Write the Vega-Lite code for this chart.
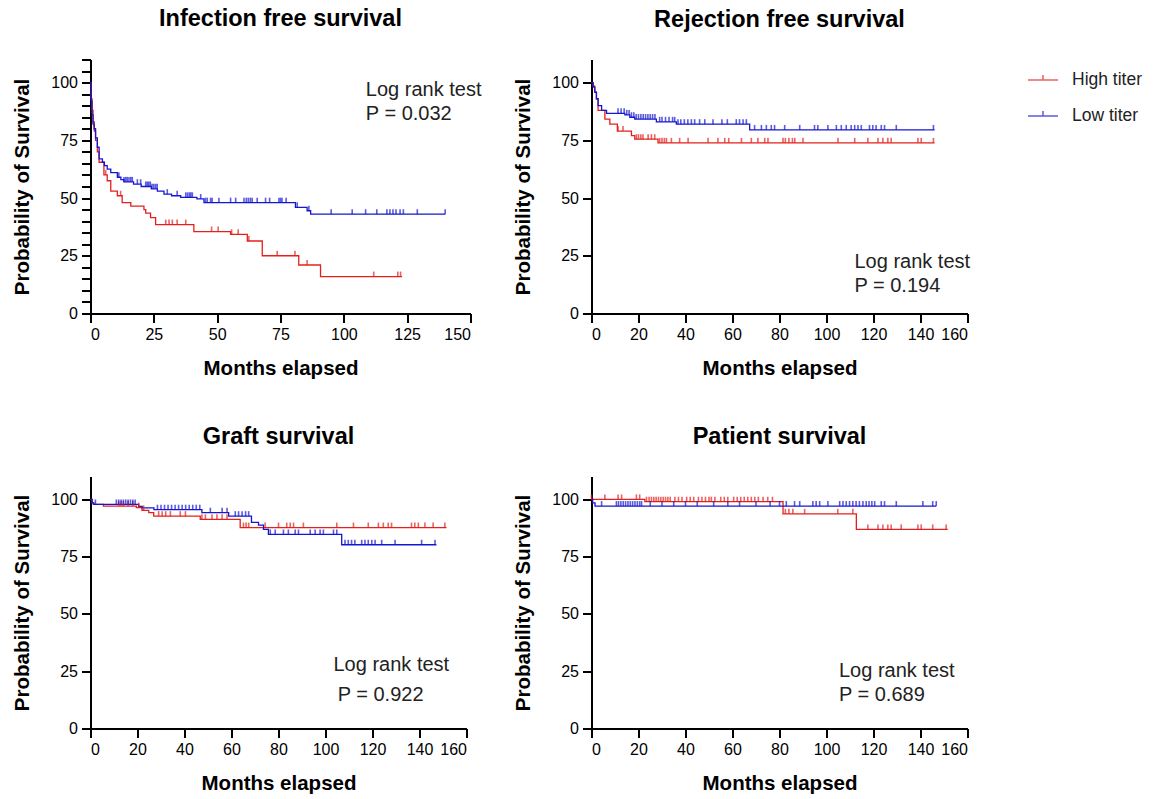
{
"$schema": "https://vega.github.io/schema/vega-lite/v6.json",
"background": "white",
"padding": {"left": 12.5, "top": 6.5, "right": 5, "bottom": 5},
"config": {
  "view": {"stroke": null},
  "font": "Liberation Sans",
  "axis": {"domainColor": "black", "domainWidth": 2, "tickColor": "black", "tickWidth": 2, "tickSize": 9, "labelFontSize": 16, "labelColor": "black", "labelPadding": 4, "titleFontSize": 20.5, "titleFontWeight": "bold", "titleColor": "black", "grid": false, "labelFont": "Liberation Sans", "titleFont": "Liberation Sans", "labelOverlap": false},
  "axisX": {"titlePadding": 16},
  "axisY": {"titlePadding": 18},
  "title": {"fontSize": 23.5, "fontWeight": "bold", "color": "black", "offset": 28.5, "font": "Liberation Sans"},
  "legend": {"orient": "none", "legendX": 936.5, "legendY": 4.5, "title": null, "labelFontSize": 17.5, "labelFont": "Liberation Sans", "labelColor": "#222", "symbolType": "M-1,0H1M0,0V-0.33", "symbolSize": 900, "symbolStrokeWidth": 1.5, "rowPadding": 11, "labelOffset": 13}
},
"datasets": {
"steps": [
{"p":1,"g":"High titer","m":0,"s":100},{"p":1,"g":"High titer","m":0.3,"s":93},{"p":1,"g":"High titer","m":0.6,"s":88},{"p":1,"g":"High titer","m":1,"s":83},{"p":1,"g":"High titer","m":1.5,"s":79},{"p":1,"g":"High titer","m":2,"s":75},{"p":1,"g":"High titer","m":2.7,"s":70},{"p":1,"g":"High titer","m":3.4,"s":65.5},{"p":1,"g":"High titer","m":5.3,"s":60},{"p":1,"g":"High titer","m":6.6,"s":57.5},{"p":1,"g":"High titer","m":8,"s":53},{"p":1,"g":"High titer","m":10.6,"s":51},{"p":1,"g":"High titer","m":12.5,"s":48},{"p":1,"g":"High titer","m":15.9,"s":46.5},{"p":1,"g":"High titer","m":21.1,"s":45},{"p":1,"g":"High titer","m":21.8,"s":43.5},{"p":1,"g":"High titer","m":23.7,"s":41.5},{"p":1,"g":"High titer","m":25.7,"s":38.5},{"p":1,"g":"High titer","m":40.8,"s":35.5},{"p":1,"g":"High titer","m":55.3,"s":34.3},{"p":1,"g":"High titer","m":61.9,"s":31.4},{"p":1,"g":"High titer","m":67.8,"s":25},{"p":1,"g":"High titer","m":82.2,"s":21},{"p":1,"g":"High titer","m":90.8,"s":16},{"p":1,"g":"High titer","m":123,"s":16},
{"p":1,"g":"Low titer","m":0,"s":100},{"p":1,"g":"Low titer","m":0.3,"s":92},{"p":1,"g":"Low titer","m":0.6,"s":86},{"p":1,"g":"Low titer","m":1,"s":82},{"p":1,"g":"Low titer","m":1.4,"s":80},{"p":1,"g":"Low titer","m":2,"s":76},{"p":1,"g":"Low titer","m":2.7,"s":72},{"p":1,"g":"Low titer","m":3.4,"s":67},{"p":1,"g":"Low titer","m":4.7,"s":65.5},{"p":1,"g":"Low titer","m":5.5,"s":64},{"p":1,"g":"Low titer","m":6.6,"s":62.5},{"p":1,"g":"Low titer","m":8,"s":61},{"p":1,"g":"Low titer","m":10.6,"s":59},{"p":1,"g":"Low titer","m":12,"s":58},{"p":1,"g":"Low titer","m":13.2,"s":57},{"p":1,"g":"Low titer","m":17,"s":56},{"p":1,"g":"Low titer","m":20,"s":55},{"p":1,"g":"Low titer","m":24,"s":54},{"p":1,"g":"Low titer","m":26.4,"s":53},{"p":1,"g":"Low titer","m":29,"s":51.7},{"p":1,"g":"Low titer","m":32,"s":51},{"p":1,"g":"Low titer","m":35.6,"s":50.3},{"p":1,"g":"Low titer","m":42,"s":49.6},{"p":1,"g":"Low titer","m":44.8,"s":48},{"p":1,"g":"Low titer","m":80.9,"s":46},{"p":1,"g":"Low titer","m":85.5,"s":44.5},{"p":1,"g":"Low titer","m":86.9,"s":43},{"p":1,"g":"Low titer","m":140,"s":43},
{"p":2,"g":"High titer","m":0,"s":100},{"p":2,"g":"High titer","m":0.7,"s":98.5},{"p":2,"g":"High titer","m":1.4,"s":96},{"p":2,"g":"High titer","m":2.1,"s":93},{"p":2,"g":"High titer","m":2.8,"s":88},{"p":2,"g":"High titer","m":5.7,"s":84.2},{"p":2,"g":"High titer","m":7.8,"s":82},{"p":2,"g":"High titer","m":11,"s":79},{"p":2,"g":"High titer","m":17,"s":77},{"p":2,"g":"High titer","m":18.4,"s":75.5},{"p":2,"g":"High titer","m":28.3,"s":73.9},{"p":2,"g":"High titer","m":146,"s":73.9},
{"p":2,"g":"Low titer","m":0,"s":100},{"p":2,"g":"Low titer","m":0.7,"s":98},{"p":2,"g":"Low titer","m":1.4,"s":95.8},{"p":2,"g":"Low titer","m":2.1,"s":93},{"p":2,"g":"Low titer","m":2.8,"s":90},{"p":2,"g":"Low titer","m":4.3,"s":88},{"p":2,"g":"Low titer","m":6.4,"s":86.7},{"p":2,"g":"Low titer","m":14.2,"s":86},{"p":2,"g":"Low titer","m":16.3,"s":85},{"p":2,"g":"Low titer","m":18.4,"s":84.2},{"p":2,"g":"Low titer","m":27.6,"s":83},{"p":2,"g":"Low titer","m":36.1,"s":82},{"p":2,"g":"Low titer","m":67.3,"s":79.5},{"p":2,"g":"Low titer","m":146,"s":79.5},
{"p":3,"g":"High titer","m":0,"s":100},{"p":3,"g":"High titer","m":0.7,"s":98.5},{"p":3,"g":"High titer","m":1.2,"s":97.8},{"p":3,"g":"High titer","m":5.5,"s":97.1},{"p":3,"g":"High titer","m":19.5,"s":96.4},{"p":3,"g":"High titer","m":21.9,"s":95.2},{"p":3,"g":"High titer","m":24.8,"s":94.2},{"p":3,"g":"High titer","m":26.9,"s":92.7},{"p":3,"g":"High titer","m":46.7,"s":91.3},{"p":3,"g":"High titer","m":63.7,"s":87.7},{"p":3,"g":"High titer","m":151.5,"s":87.7},
{"p":3,"g":"Low titer","m":0,"s":100},{"p":3,"g":"Low titer","m":0.7,"s":98.5},{"p":3,"g":"Low titer","m":1.4,"s":97.8},{"p":3,"g":"Low titer","m":20.5,"s":97},{"p":3,"g":"Low titer","m":22,"s":96.3},{"p":3,"g":"Low titer","m":27,"s":95.5},{"p":3,"g":"Low titer","m":47.4,"s":94.2},{"p":3,"g":"Low titer","m":58.8,"s":92.7},{"p":3,"g":"Low titer","m":68.5,"s":90},{"p":3,"g":"Low titer","m":71.5,"s":88.8},{"p":3,"g":"Low titer","m":73.6,"s":86.9},{"p":3,"g":"Low titer","m":75.7,"s":84.7},{"p":3,"g":"Low titer","m":106.9,"s":80.2},{"p":3,"g":"Low titer","m":147.2,"s":80.2},
{"p":4,"g":"High titer","m":0,"s":100},{"p":4,"g":"High titer","m":22.7,"s":99},{"p":4,"g":"High titer","m":81.5,"s":93.7},{"p":4,"g":"High titer","m":112.7,"s":86.9},{"p":4,"g":"High titer","m":151.6,"s":86.9},
{"p":4,"g":"Low titer","m":0,"s":100},{"p":4,"g":"Low titer","m":0.5,"s":98.5},{"p":4,"g":"Low titer","m":1.5,"s":97.1},{"p":4,"g":"Low titer","m":146.7,"s":97.1}
],
"cens": [
{"p":1,"g":"Low titer","m":11.2,"s":59},{"p":1,"g":"Low titer","m":13.2,"s":57},{"p":1,"g":"Low titer","m":13.9,"s":57},{"p":1,"g":"Low titer","m":14.5,"s":57},{"p":1,"g":"Low titer","m":15.2,"s":57},{"p":1,"g":"Low titer","m":15.9,"s":57},{"p":1,"g":"Low titer","m":16.5,"s":57},{"p":1,"g":"Low titer","m":18.5,"s":56},{"p":1,"g":"Low titer","m":19.8,"s":56},{"p":1,"g":"Low titer","m":21.8,"s":55},{"p":1,"g":"Low titer","m":22.4,"s":55},{"p":1,"g":"Low titer","m":23,"s":55},{"p":1,"g":"Low titer","m":23.6,"s":55},{"p":1,"g":"Low titer","m":24.3,"s":54},{"p":1,"g":"Low titer","m":25,"s":54},{"p":1,"g":"Low titer","m":25.7,"s":54},{"p":1,"g":"Low titer","m":26.3,"s":54},{"p":1,"g":"Low titer","m":30.3,"s":51.7},{"p":1,"g":"Low titer","m":34.2,"s":51},{"p":1,"g":"Low titer","m":37.6,"s":50.3},{"p":1,"g":"Low titer","m":38.3,"s":50.3},{"p":1,"g":"Low titer","m":39,"s":50.3},{"p":1,"g":"Low titer","m":39.6,"s":50.3},{"p":1,"g":"Low titer","m":40.2,"s":50.3},{"p":1,"g":"Low titer","m":43.5,"s":49.6},{"p":1,"g":"Low titer","m":45.4,"s":48},{"p":1,"g":"Low titer","m":46.1,"s":48},{"p":1,"g":"Low titer","m":47.4,"s":48},{"p":1,"g":"Low titer","m":48,"s":48},{"p":1,"g":"Low titer","m":50.7,"s":48},{"p":1,"g":"Low titer","m":55.3,"s":48},{"p":1,"g":"Low titer","m":57.3,"s":48},{"p":1,"g":"Low titer","m":60.6,"s":48},{"p":1,"g":"Low titer","m":61.5,"s":48},{"p":1,"g":"Low titer","m":62.3,"s":48},{"p":1,"g":"Low titer","m":63.1,"s":48},{"p":1,"g":"Low titer","m":63.8,"s":48},{"p":1,"g":"Low titer","m":65.8,"s":48},{"p":1,"g":"Low titer","m":69.1,"s":48},{"p":1,"g":"Low titer","m":70.7,"s":48},{"p":1,"g":"Low titer","m":74.4,"s":48},{"p":1,"g":"Low titer","m":75,"s":48},{"p":1,"g":"Low titer","m":75.6,"s":48},{"p":1,"g":"Low titer","m":77.2,"s":48},{"p":1,"g":"Low titer","m":81.6,"s":46},{"p":1,"g":"Low titer","m":86.2,"s":44.5},{"p":1,"g":"Low titer","m":95,"s":43},{"p":1,"g":"Low titer","m":103.3,"s":43},{"p":1,"g":"Low titer","m":108.6,"s":43},{"p":1,"g":"Low titer","m":113,"s":43},{"p":1,"g":"Low titer","m":117,"s":43},{"p":1,"g":"Low titer","m":118.2,"s":43},{"p":1,"g":"Low titer","m":119.4,"s":43},{"p":1,"g":"Low titer","m":120.6,"s":43},{"p":1,"g":"Low titer","m":122.2,"s":43},{"p":1,"g":"Low titer","m":123.5,"s":43},{"p":1,"g":"Low titer","m":129,"s":43},{"p":1,"g":"Low titer","m":140,"s":43},
{"p":1,"g":"High titer","m":6,"s":60},{"p":1,"g":"High titer","m":11.9,"s":51},{"p":1,"g":"High titer","m":29.7,"s":38.5},{"p":1,"g":"High titer","m":31,"s":38.5},{"p":1,"g":"High titer","m":32.3,"s":38.5},{"p":1,"g":"High titer","m":34.2,"s":38.5},{"p":1,"g":"High titer","m":37.6,"s":38.5},{"p":1,"g":"High titer","m":47.8,"s":35.5},{"p":1,"g":"High titer","m":50.4,"s":35.5},{"p":1,"g":"High titer","m":55.7,"s":34.3},{"p":1,"g":"High titer","m":58.3,"s":34.3},{"p":1,"g":"High titer","m":62.5,"s":31.4},{"p":1,"g":"High titer","m":73.7,"s":25},{"p":1,"g":"High titer","m":80.7,"s":25},{"p":1,"g":"High titer","m":85.5,"s":21},{"p":1,"g":"High titer","m":111.8,"s":16},{"p":1,"g":"High titer","m":121.3,"s":16},{"p":1,"g":"High titer","m":122.4,"s":16},
{"p":2,"g":"Low titer","m":11.3,"s":86.7},{"p":2,"g":"Low titer","m":12.6,"s":86.7},{"p":2,"g":"Low titer","m":13.9,"s":86.7},{"p":2,"g":"Low titer","m":15,"s":86},{"p":2,"g":"Low titer","m":16,"s":86},{"p":2,"g":"Low titer","m":17,"s":85},{"p":2,"g":"Low titer","m":18,"s":85},{"p":2,"g":"Low titer","m":19,"s":84.2},{"p":2,"g":"Low titer","m":20,"s":84.2},{"p":2,"g":"Low titer","m":21,"s":84.2},{"p":2,"g":"Low titer","m":22,"s":84.2},{"p":2,"g":"Low titer","m":23,"s":84.2},{"p":2,"g":"Low titer","m":24,"s":84.2},{"p":2,"g":"Low titer","m":25,"s":84.2},{"p":2,"g":"Low titer","m":26,"s":84.2},{"p":2,"g":"Low titer","m":27,"s":84.2},{"p":2,"g":"Low titer","m":29,"s":83},{"p":2,"g":"Low titer","m":30,"s":83},{"p":2,"g":"Low titer","m":31.5,"s":83},{"p":2,"g":"Low titer","m":33,"s":83},{"p":2,"g":"Low titer","m":34.5,"s":83},{"p":2,"g":"Low titer","m":35.4,"s":83},{"p":2,"g":"Low titer","m":36.8,"s":82},{"p":2,"g":"Low titer","m":38,"s":82},{"p":2,"g":"Low titer","m":39.5,"s":82},{"p":2,"g":"Low titer","m":41,"s":82},{"p":2,"g":"Low titer","m":42.5,"s":82},{"p":2,"g":"Low titer","m":43.9,"s":82},{"p":2,"g":"Low titer","m":46,"s":82},{"p":2,"g":"Low titer","m":48.2,"s":82},{"p":2,"g":"Low titer","m":51.7,"s":82},{"p":2,"g":"Low titer","m":55.5,"s":82},{"p":2,"g":"Low titer","m":57.8,"s":82},{"p":2,"g":"Low titer","m":61.6,"s":82},{"p":2,"g":"Low titer","m":63,"s":82},{"p":2,"g":"Low titer","m":64.5,"s":82},{"p":2,"g":"Low titer","m":65.9,"s":82},{"p":2,"g":"Low titer","m":69.4,"s":79.5},{"p":2,"g":"Low titer","m":72.3,"s":79.5},{"p":2,"g":"Low titer","m":74.4,"s":79.5},{"p":2,"g":"Low titer","m":76.5,"s":79.5},{"p":2,"g":"Low titer","m":77.9,"s":79.5},{"p":2,"g":"Low titer","m":82.2,"s":79.5},{"p":2,"g":"Low titer","m":88.6,"s":79.5},{"p":2,"g":"Low titer","m":94.9,"s":79.5},{"p":2,"g":"Low titer","m":96.3,"s":79.5},{"p":2,"g":"Low titer","m":100.6,"s":79.5},{"p":2,"g":"Low titer","m":104.2,"s":79.5},{"p":2,"g":"Low titer","m":106.3,"s":79.5},{"p":2,"g":"Low titer","m":108.4,"s":79.5},{"p":2,"g":"Low titer","m":110.5,"s":79.5},{"p":2,"g":"Low titer","m":112,"s":79.5},{"p":2,"g":"Low titer","m":113.4,"s":79.5},{"p":2,"g":"Low titer","m":114.8,"s":79.5},{"p":2,"g":"Low titer","m":118.3,"s":79.5},{"p":2,"g":"Low titer","m":119.7,"s":79.5},{"p":2,"g":"Low titer","m":121.1,"s":79.5},{"p":2,"g":"Low titer","m":123.3,"s":79.5},{"p":2,"g":"Low titer","m":124.7,"s":79.5},{"p":2,"g":"Low titer","m":129.7,"s":79.5},{"p":2,"g":"Low titer","m":145.5,"s":79.5},
{"p":2,"g":"High titer","m":11.3,"s":79},{"p":2,"g":"High titer","m":13.4,"s":79},{"p":2,"g":"High titer","m":19.1,"s":75.5},{"p":2,"g":"High titer","m":20,"s":75.5},{"p":2,"g":"High titer","m":21,"s":75.5},{"p":2,"g":"High titer","m":21.9,"s":75.5},{"p":2,"g":"High titer","m":24.1,"s":75.5},{"p":2,"g":"High titer","m":25.5,"s":75.5},{"p":2,"g":"High titer","m":26.9,"s":75.5},{"p":2,"g":"High titer","m":29,"s":73.9},{"p":2,"g":"High titer","m":30,"s":73.9},{"p":2,"g":"High titer","m":31,"s":73.9},{"p":2,"g":"High titer","m":31.9,"s":73.9},{"p":2,"g":"High titer","m":34,"s":73.9},{"p":2,"g":"High titer","m":37.5,"s":73.9},{"p":2,"g":"High titer","m":41.1,"s":73.9},{"p":2,"g":"High titer","m":49.6,"s":73.9},{"p":2,"g":"High titer","m":53.8,"s":73.9},{"p":2,"g":"High titer","m":56.7,"s":73.9},{"p":2,"g":"High titer","m":58.4,"s":73.9},{"p":2,"g":"High titer","m":63.8,"s":73.9},{"p":2,"g":"High titer","m":68,"s":73.9},{"p":2,"g":"High titer","m":70.8,"s":73.9},{"p":2,"g":"High titer","m":73.7,"s":73.9},{"p":2,"g":"High titer","m":75.1,"s":73.9},{"p":2,"g":"High titer","m":81.5,"s":73.9},{"p":2,"g":"High titer","m":82.5,"s":73.9},{"p":2,"g":"High titer","m":84,"s":73.9},{"p":2,"g":"High titer","m":85.5,"s":73.9},{"p":2,"g":"High titer","m":86.5,"s":73.9},{"p":2,"g":"High titer","m":90,"s":73.9},{"p":2,"g":"High titer","m":104.9,"s":73.9},{"p":2,"g":"High titer","m":112,"s":73.9},{"p":2,"g":"High titer","m":117.6,"s":73.9},{"p":2,"g":"High titer","m":121.9,"s":73.9},{"p":2,"g":"High titer","m":124,"s":73.9},{"p":2,"g":"High titer","m":126.1,"s":73.9},{"p":2,"g":"High titer","m":127.5,"s":73.9},{"p":2,"g":"High titer","m":138.9,"s":73.9},{"p":2,"g":"High titer","m":140.3,"s":73.9},{"p":2,"g":"High titer","m":145.5,"s":73.9},
{"p":3,"g":"High titer","m":12,"s":97.1},{"p":3,"g":"High titer","m":13,"s":97.1},{"p":3,"g":"High titer","m":14,"s":97.1},{"p":3,"g":"High titer","m":16,"s":97.1},{"p":3,"g":"High titer","m":18,"s":97.1},{"p":3,"g":"High titer","m":20.5,"s":96.4},{"p":3,"g":"High titer","m":22.6,"s":95.2},{"p":3,"g":"High titer","m":29,"s":92.7},{"p":3,"g":"High titer","m":30.5,"s":92.7},{"p":3,"g":"High titer","m":32,"s":92.7},{"p":3,"g":"High titer","m":34,"s":92.7},{"p":3,"g":"High titer","m":38.2,"s":92.7},{"p":3,"g":"High titer","m":40.4,"s":92.7},{"p":3,"g":"High titer","m":47.4,"s":91.3},{"p":3,"g":"High titer","m":48.9,"s":91.3},{"p":3,"g":"High titer","m":51.7,"s":91.3},{"p":3,"g":"High titer","m":53.8,"s":91.3},{"p":3,"g":"High titer","m":56,"s":91.3},{"p":3,"g":"High titer","m":58.1,"s":91.3},{"p":3,"g":"High titer","m":65.1,"s":87.7},{"p":3,"g":"High titer","m":66.2,"s":87.7},{"p":3,"g":"High titer","m":67.3,"s":87.7},{"p":3,"g":"High titer","m":74.3,"s":87.7},{"p":3,"g":"High titer","m":80,"s":87.7},{"p":3,"g":"High titer","m":83.5,"s":87.7},{"p":3,"g":"High titer","m":85,"s":87.7},{"p":3,"g":"High titer","m":86.4,"s":87.7},{"p":3,"g":"High titer","m":90.6,"s":87.7},{"p":3,"g":"High titer","m":104.8,"s":87.7},{"p":3,"g":"High titer","m":111.9,"s":87.7},{"p":3,"g":"High titer","m":118.2,"s":87.7},{"p":3,"g":"High titer","m":122.5,"s":87.7},{"p":3,"g":"High titer","m":124.6,"s":87.7},{"p":3,"g":"High titer","m":126.7,"s":87.7},{"p":3,"g":"High titer","m":128.1,"s":87.7},{"p":3,"g":"High titer","m":136.6,"s":87.7},{"p":3,"g":"High titer","m":138,"s":87.7},{"p":3,"g":"High titer","m":139.5,"s":87.7},{"p":3,"g":"High titer","m":142.3,"s":87.7},{"p":3,"g":"High titer","m":145.8,"s":87.7},{"p":3,"g":"High titer","m":150.8,"s":87.7},
{"p":3,"g":"Low titer","m":2.1,"s":97.8},{"p":3,"g":"Low titer","m":11,"s":97.8},{"p":3,"g":"Low titer","m":12,"s":97.8},{"p":3,"g":"Low titer","m":13,"s":97.8},{"p":3,"g":"Low titer","m":14,"s":97.8},{"p":3,"g":"Low titer","m":15,"s":97.8},{"p":3,"g":"Low titer","m":16,"s":97.8},{"p":3,"g":"Low titer","m":17,"s":97.8},{"p":3,"g":"Low titer","m":18,"s":97.8},{"p":3,"g":"Low titer","m":19,"s":97.8},{"p":3,"g":"Low titer","m":28.5,"s":95.5},{"p":3,"g":"Low titer","m":30,"s":95.5},{"p":3,"g":"Low titer","m":31.5,"s":95.5},{"p":3,"g":"Low titer","m":33,"s":95.5},{"p":3,"g":"Low titer","m":34.5,"s":95.5},{"p":3,"g":"Low titer","m":36,"s":95.5},{"p":3,"g":"Low titer","m":37.5,"s":95.5},{"p":3,"g":"Low titer","m":39,"s":95.5},{"p":3,"g":"Low titer","m":40.5,"s":95.5},{"p":3,"g":"Low titer","m":42,"s":95.5},{"p":3,"g":"Low titer","m":43.5,"s":95.5},{"p":3,"g":"Low titer","m":45,"s":95.5},{"p":3,"g":"Low titer","m":46.5,"s":95.5},{"p":3,"g":"Low titer","m":51,"s":94.2},{"p":3,"g":"Low titer","m":56,"s":94.2},{"p":3,"g":"Low titer","m":58.1,"s":94.2},{"p":3,"g":"Low titer","m":61.6,"s":92.7},{"p":3,"g":"Low titer","m":63,"s":92.7},{"p":3,"g":"Low titer","m":64.5,"s":92.7},{"p":3,"g":"Low titer","m":66,"s":92.7},{"p":3,"g":"Low titer","m":67.3,"s":92.7},{"p":3,"g":"Low titer","m":76.5,"s":84.7},{"p":3,"g":"Low titer","m":78.6,"s":84.7},{"p":3,"g":"Low titer","m":82.1,"s":84.7},{"p":3,"g":"Low titer","m":84.2,"s":84.7},{"p":3,"g":"Low titer","m":87.1,"s":84.7},{"p":3,"g":"Low titer","m":88.5,"s":84.7},{"p":3,"g":"Low titer","m":93.5,"s":84.7},{"p":3,"g":"Low titer","m":95.6,"s":84.7},{"p":3,"g":"Low titer","m":97.7,"s":84.7},{"p":3,"g":"Low titer","m":99.1,"s":84.7},{"p":3,"g":"Low titer","m":103.4,"s":84.7},{"p":3,"g":"Low titer","m":104.8,"s":84.7},{"p":3,"g":"Low titer","m":108.3,"s":80.2},{"p":3,"g":"Low titer","m":109.7,"s":80.2},{"p":3,"g":"Low titer","m":111.1,"s":80.2},{"p":3,"g":"Low titer","m":112.5,"s":80.2},{"p":3,"g":"Low titer","m":115.4,"s":80.2},{"p":3,"g":"Low titer","m":116.8,"s":80.2},{"p":3,"g":"Low titer","m":118.2,"s":80.2},{"p":3,"g":"Low titer","m":119.7,"s":80.2},{"p":3,"g":"Low titer","m":121.1,"s":80.2},{"p":3,"g":"Low titer","m":123.9,"s":80.2},{"p":3,"g":"Low titer","m":129.6,"s":80.2},{"p":3,"g":"Low titer","m":140.9,"s":80.2},{"p":3,"g":"Low titer","m":146.6,"s":80.2},
{"p":4,"g":"Low titer","m":4.3,"s":97.1},{"p":4,"g":"Low titer","m":10.6,"s":97.1},{"p":4,"g":"Low titer","m":11.5,"s":97.1},{"p":4,"g":"Low titer","m":12.5,"s":97.1},{"p":4,"g":"Low titer","m":13.5,"s":97.1},{"p":4,"g":"Low titer","m":14.5,"s":97.1},{"p":4,"g":"Low titer","m":15.5,"s":97.1},{"p":4,"g":"Low titer","m":16.5,"s":97.1},{"p":4,"g":"Low titer","m":17.5,"s":97.1},{"p":4,"g":"Low titer","m":18.5,"s":97.1},{"p":4,"g":"Low titer","m":19.5,"s":97.1},{"p":4,"g":"Low titer","m":20.5,"s":97.1},{"p":4,"g":"Low titer","m":21.3,"s":97.1},{"p":4,"g":"Low titer","m":25,"s":97.1},{"p":4,"g":"Low titer","m":30,"s":97.1},{"p":4,"g":"Low titer","m":35,"s":97.1},{"p":4,"g":"Low titer","m":40,"s":97.1},{"p":4,"g":"Low titer","m":45,"s":97.1},{"p":4,"g":"Low titer","m":52,"s":97.1},{"p":4,"g":"Low titer","m":58,"s":97.1},{"p":4,"g":"Low titer","m":63,"s":97.1},{"p":4,"g":"Low titer","m":70,"s":97.1},{"p":4,"g":"Low titer","m":76,"s":97.1},{"p":4,"g":"Low titer","m":80,"s":97.1},{"p":4,"g":"Low titer","m":82.9,"s":97.1},{"p":4,"g":"Low titer","m":86.4,"s":97.1},{"p":4,"g":"Low titer","m":88.6,"s":97.1},{"p":4,"g":"Low titer","m":94.2,"s":97.1},{"p":4,"g":"Low titer","m":95.6,"s":97.1},{"p":4,"g":"Low titer","m":97.1,"s":97.1},{"p":4,"g":"Low titer","m":100.6,"s":97.1},{"p":4,"g":"Low titer","m":105.6,"s":97.1},{"p":4,"g":"Low titer","m":107,"s":97.1},{"p":4,"g":"Low titer","m":108.4,"s":97.1},{"p":4,"g":"Low titer","m":109.8,"s":97.1},{"p":4,"g":"Low titer","m":111.2,"s":97.1},{"p":4,"g":"Low titer","m":112.6,"s":97.1},{"p":4,"g":"Low titer","m":114,"s":97.1},{"p":4,"g":"Low titer","m":115.5,"s":97.1},{"p":4,"g":"Low titer","m":116.9,"s":97.1},{"p":4,"g":"Low titer","m":118.1,"s":97.1},{"p":4,"g":"Low titer","m":119.3,"s":97.1},{"p":4,"g":"Low titer","m":120.5,"s":97.1},{"p":4,"g":"Low titer","m":123.3,"s":97.1},{"p":4,"g":"Low titer","m":124.7,"s":97.1},{"p":4,"g":"Low titer","m":129.7,"s":97.1},{"p":4,"g":"Low titer","m":141,"s":97.1},{"p":4,"g":"Low titer","m":145.2,"s":97.1},{"p":4,"g":"Low titer","m":146.7,"s":97.1},
{"p":4,"g":"High titer","m":0,"s":100},{"p":4,"g":"High titer","m":5.7,"s":100},{"p":4,"g":"High titer","m":11.3,"s":100},{"p":4,"g":"High titer","m":12.8,"s":100},{"p":4,"g":"High titer","m":19.1,"s":100},{"p":4,"g":"High titer","m":20.5,"s":100},{"p":4,"g":"High titer","m":23.4,"s":99},{"p":4,"g":"High titer","m":24.5,"s":99},{"p":4,"g":"High titer","m":25.5,"s":99},{"p":4,"g":"High titer","m":26.5,"s":99},{"p":4,"g":"High titer","m":27.5,"s":99},{"p":4,"g":"High titer","m":28.5,"s":99},{"p":4,"g":"High titer","m":29.5,"s":99},{"p":4,"g":"High titer","m":30.5,"s":99},{"p":4,"g":"High titer","m":31.5,"s":99},{"p":4,"g":"High titer","m":32.5,"s":99},{"p":4,"g":"High titer","m":33.5,"s":99},{"p":4,"g":"High titer","m":35.5,"s":99},{"p":4,"g":"High titer","m":37,"s":99},{"p":4,"g":"High titer","m":38.5,"s":99},{"p":4,"g":"High titer","m":40.5,"s":99},{"p":4,"g":"High titer","m":42,"s":99},{"p":4,"g":"High titer","m":43.5,"s":99},{"p":4,"g":"High titer","m":45.5,"s":99},{"p":4,"g":"High titer","m":47,"s":99},{"p":4,"g":"High titer","m":48.5,"s":99},{"p":4,"g":"High titer","m":50,"s":99},{"p":4,"g":"High titer","m":51,"s":99},{"p":4,"g":"High titer","m":52.5,"s":99},{"p":4,"g":"High titer","m":55,"s":99},{"p":4,"g":"High titer","m":56.5,"s":99},{"p":4,"g":"High titer","m":58,"s":99},{"p":4,"g":"High titer","m":60.5,"s":99},{"p":4,"g":"High titer","m":62,"s":99},{"p":4,"g":"High titer","m":63.5,"s":99},{"p":4,"g":"High titer","m":65,"s":99},{"p":4,"g":"High titer","m":66.5,"s":99},{"p":4,"g":"High titer","m":68,"s":99},{"p":4,"g":"High titer","m":69.5,"s":99},{"p":4,"g":"High titer","m":71,"s":99},{"p":4,"g":"High titer","m":73,"s":99},{"p":4,"g":"High titer","m":75,"s":99},{"p":4,"g":"High titer","m":77,"s":99},{"p":4,"g":"High titer","m":82.5,"s":93.7},{"p":4,"g":"High titer","m":84,"s":93.7},{"p":4,"g":"High titer","m":85.7,"s":93.7},{"p":4,"g":"High titer","m":90.7,"s":93.7},{"p":4,"g":"High titer","m":104.8,"s":93.7},{"p":4,"g":"High titer","m":111.2,"s":93.7},{"p":4,"g":"High titer","m":117.6,"s":86.9},{"p":4,"g":"High titer","m":121.9,"s":86.9},{"p":4,"g":"High titer","m":124,"s":86.9},{"p":4,"g":"High titer","m":126.1,"s":86.9},{"p":4,"g":"High titer","m":127.5,"s":86.9},{"p":4,"g":"High titer","m":131.8,"s":86.9},{"p":4,"g":"High titer","m":138.9,"s":86.9},{"p":4,"g":"High titer","m":140.3,"s":86.9},{"p":4,"g":"High titer","m":145.2,"s":86.9},{"p":4,"g":"High titer","m":150.9,"s":86.9}
],
"notes": [
{"p":1,"m":108.7,"s":97,"t":"Log rank test"},{"p":1,"m":108.7,"s":86.3,"t":"P = 0.032"},
{"p":2,"m":111.9,"s":22.5,"t":"Log rank test"},{"p":2,"m":111.9,"s":11.7,"t":"P = 0.194"},
{"p":3,"m":103.4,"s":27.8,"t":"Log rank test"},{"p":3,"m":105.2,"s":14.7,"t":"P = 0.922"},
{"p":4,"m":105.3,"s":25.3,"t":"Log rank test"},{"p":4,"m":105.3,"s":14.7,"t":"P = 0.689"}
]
},
"resolve": {"scale": {"color": "shared"}, "legend": {"color": "shared"}},
"spacing": 45,
"vconcat": [
{
"spacing": 32,
"resolve": {"scale": {"color": "shared"}},
"hconcat": [
{
"title": "Infection free survival",
"width": 380, "height": 254,
"encoding": {
  "x": {"field": "m", "type": "quantitative", "scale": {"domain": [0, 150], "nice": false, "zero": false}, "axis": {"values": [0, 25, 50, 75, 100, 125, 150], "title": "Months elapsed"}},
  "y": {"field": "s", "type": "quantitative", "scale": {"domain": [0, 110], "nice": false}, "axis": {"tickCount": 40, "values": [0,5,10,15,20,25,30,35,40,45,50,55,60,65,70,75,80,85,90,95,100,105,110], "labelOverlap": false, "labelExpr": "(datum.value == 0 || datum.value == 25 || datum.value == 50 || datum.value == 75 || datum.value == 100) ? datum.label : ''", "labelFontSize": {"condition": {"test": "datum.value == 0 || datum.value == 25 || datum.value == 50 || datum.value == 75 || datum.value == 100", "value": 16}, "value": 0.01}, "title": "Probability of Survival"}}
},
"layer": [
{"data": {"name": "steps"}, "transform": [{"filter": "datum.p === 1"}],
 "mark": {"type": "line", "interpolate": "step-after", "strokeWidth": 1.3},
 "encoding": {
  "color": {"field": "g", "type": "nominal", "scale": {"domain": ["High titer", "Low titer"], "range": ["#e3201c", "#1616d0"]}}
 }},
{"data": {"name": "cens"}, "transform": [{"filter": "datum.p === 1"}],
 "mark": {"type": "tick", "orient": "vertical", "size": 5, "thickness": 1.6, "yOffset": -2.5},
 "encoding": {"color": {"field": "g", "type": "nominal"}}},
{"data": {"name": "notes"}, "transform": [{"filter": "datum.p === 1"}],
 "mark": {"type": "text", "align": "left", "baseline": "middle", "fontSize": 20, "color": "#222"},
 "encoding": {"text": {"field": "t"}}}
]
},
{
"title": "Rejection free survival",
"width": 376, "height": 254,
"layer": [
{"data": {"name": "steps"}, "transform": [{"filter": "datum.p === 2"}],
 "mark": {"type": "line", "interpolate": "step-after", "strokeWidth": 1.3},
 "encoding": {
  "x": {"field": "m", "type": "quantitative", "scale": {"domain": [0, 160], "nice": false, "zero": false}, "axis": {"values": [0, 20, 40, 60, 80, 100, 120, 140, 160], "title": "Months elapsed"}},
  "y": {"field": "s", "type": "quantitative", "scale": {"domain": [0, 110], "nice": false}, "axis": {"values": [0, 25, 50, 75, 100], "title": "Probability of Survival"}},
  "color": {"field": "g", "type": "nominal", "scale": {"domain": ["High titer", "Low titer"], "range": ["#e3201c", "#1616d0"]}}
 }},
{"data": {"name": "cens"}, "transform": [{"filter": "datum.p === 2"}],
 "mark": {"type": "tick", "orient": "vertical", "size": 5, "thickness": 1.6, "yOffset": -2.5},
 "encoding": {"x": {"field": "m", "type": "quantitative"}, "y": {"field": "s", "type": "quantitative"}, "color": {"field": "g", "type": "nominal"}}},
{"data": {"name": "notes"}, "transform": [{"filter": "datum.p === 2"}],
 "mark": {"type": "text", "align": "left", "baseline": "middle", "fontSize": 20, "color": "#222"},
 "encoding": {"x": {"field": "m", "type": "quantitative"}, "y": {"field": "s", "type": "quantitative"}, "text": {"field": "t"}}}
]
}
]
},
{
"spacing": 46,
"resolve": {"scale": {"color": "shared"}},
"hconcat": [
{
"title": "Graft survival",
"width": 376, "height": 252,
"layer": [
{"data": {"name": "steps"}, "transform": [{"filter": "datum.p === 3"}],
 "mark": {"type": "line", "interpolate": "step-after", "strokeWidth": 1.3},
 "encoding": {
  "x": {"field": "m", "type": "quantitative", "scale": {"domain": [0, 160], "nice": false, "zero": false}, "axis": {"values": [0, 20, 40, 60, 80, 100, 120, 140, 160], "title": "Months elapsed"}},
  "y": {"field": "s", "type": "quantitative", "scale": {"domain": [0, 110], "nice": false}, "axis": {"values": [0, 25, 50, 75, 100], "title": "Probability of Survival"}},
  "color": {"field": "g", "type": "nominal", "scale": {"domain": ["High titer", "Low titer"], "range": ["#e3201c", "#1616d0"]}}
 }},
{"data": {"name": "cens"}, "transform": [{"filter": "datum.p === 3"}],
 "mark": {"type": "tick", "orient": "vertical", "size": 5, "thickness": 1.6, "yOffset": -2.5},
 "encoding": {"x": {"field": "m", "type": "quantitative"}, "y": {"field": "s", "type": "quantitative"}, "color": {"field": "g", "type": "nominal"}}},
{"data": {"name": "notes"}, "transform": [{"filter": "datum.p === 3"}],
 "mark": {"type": "text", "align": "left", "baseline": "middle", "fontSize": 20, "color": "#222"},
 "encoding": {"x": {"field": "m", "type": "quantitative"}, "y": {"field": "s", "type": "quantitative"}, "text": {"field": "t"}}}
]
},
{
"title": "Patient survival",
"width": 376, "height": 252,
"layer": [
{"data": {"name": "steps"}, "transform": [{"filter": "datum.p === 4"}],
 "mark": {"type": "line", "interpolate": "step-after", "strokeWidth": 1.3},
 "encoding": {
  "x": {"field": "m", "type": "quantitative", "scale": {"domain": [0, 160], "nice": false, "zero": false}, "axis": {"values": [0, 20, 40, 60, 80, 100, 120, 140, 160], "title": "Months elapsed"}},
  "y": {"field": "s", "type": "quantitative", "scale": {"domain": [0, 110], "nice": false}, "axis": {"values": [0, 25, 50, 75, 100], "title": "Probability of Survival"}},
  "color": {"field": "g", "type": "nominal", "scale": {"domain": ["High titer", "Low titer"], "range": ["#e3201c", "#1616d0"]}}
 }},
{"data": {"name": "cens"}, "transform": [{"filter": "datum.p === 4"}],
 "mark": {"type": "tick", "orient": "vertical", "size": 5, "thickness": 1.6, "yOffset": -2.5},
 "encoding": {"x": {"field": "m", "type": "quantitative"}, "y": {"field": "s", "type": "quantitative"}, "color": {"field": "g", "type": "nominal"}}},
{"data": {"name": "notes"}, "transform": [{"filter": "datum.p === 4"}],
 "mark": {"type": "text", "align": "left", "baseline": "middle", "fontSize": 20, "color": "#222"},
 "encoding": {"x": {"field": "m", "type": "quantitative"}, "y": {"field": "s", "type": "quantitative"}, "text": {"field": "t"}}}
]
}
]
}
]
}
